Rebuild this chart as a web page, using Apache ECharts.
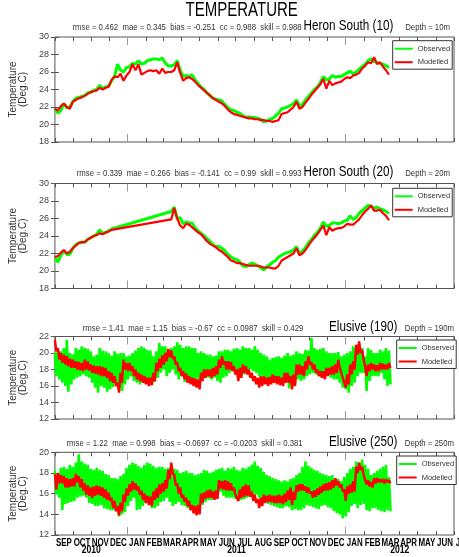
<!DOCTYPE html>
<html><head><meta charset="utf-8">
<script src="https://cdn.jsdelivr.net/npm/echarts@6/dist/echarts.min.js"></script>
<style>html,body{margin:0;padding:0;background:#fff}#c{width:459px;height:557px}</style>
</head><body><div id="c"></div>
<script>
// ---------- DATA ----------
const stepDays = 5; // sampling interval of the series, days from 1 Sep 2010
const monthNames = ['SEP','OCT','NOV','DEC','JAN','FEB','MAR','APR','MAY','JUN','JUL','AUG',
                    'SEP','OCT','NOV','DEC','JAN','FEB','MAR','APR','MAY','JUN','JUL'];
const yearLabels = ['2010','2011','2012'];
const chartTitle = 'TEMPERATURE';
const panelNames = ['Heron South (10)','Heron South (20)','Elusive (190)','Elusive (250)'];
const panelStats = [
  'rmse = 0.462  mae = 0.345  bias = -0.251  cc = 0.988  skill = 0.988',
  'rmse = 0.339  mae = 0.266  bias = -0.141  cc = 0.99  skill = 0.993',
  'rmse = 1.41  mae = 1.15  bias = -0.67  cc = 0.0987  skill = 0.429',
  'rmse = 1.22  mae = 0.998  bias = -0.0697  cc = -0.0203  skill = 0.381'
];
const panelDepths = ['Depth = 10m','Depth = 20m','Depth = 190m','Depth = 250m'];
const yRanges = [[18,30],[18,30],[12,22],[12,20]];

const h10Obs = [21.8,21.3,21.6,22.4,21.9,22.0,22.6,23.0,23.1,23.2,
23.3,23.6,23.7,23.9,24.0,24.5,24.1,24.3,24.4,25.0,
25.5,26.9,26.2,26.0,26.5,26.6,27.0,26.9,27.3,26.9,
27.0,27.3,27.4,27.5,27.5,27.4,27.6,27.0,26.7,26.7,
26.8,27.3,26.2,25.5,25.6,25.5,25.7,25.1,24.7,24.3,
24.0,23.6,23.3,23.0,22.9,22.8,22.7,22.3,21.9,21.7,
21.6,21.4,21.3,21.0,20.8,20.9,20.8,20.8,20.7,20.6,
20.3,20.4,20.6,20.7,21.0,21.3,21.8,21.9,22.0,22.2,
22.4,22.8,22.1,22.3,22.8,23.2,23.6,24.0,24.3,24.8,
25.5,25.1,25.2,25.6,25.4,25.5,25.5,25.7,25.9,26.1,
25.8,26.0,26.3,26.6,26.9,27.3,27.5,27.2,27.1,27.0,
26.9,26.7,26.5];
const h10Mod = [21.8,21.6,22.1,22.4,22.0,21.8,22.6,22.8,23.0,23.1,
23.3,23.5,23.7,23.8,23.9,24.2,24.0,24.2,24.3,25.1,
25.5,25.4,25.8,25.0,25.6,26.0,26.9,26.2,26.9,25.7,
25.9,26.1,26.2,26.1,26.2,25.8,26.4,25.9,26.0,26.0,
26.2,27.1,25.9,25.0,25.3,25.4,25.2,24.9,24.5,24.2,
23.9,23.6,23.3,23.0,22.8,22.6,22.4,22.1,21.7,21.4,
21.2,21.1,21.0,20.9,20.8,20.7,20.7,20.6,20.6,20.5,
20.5,20.4,20.4,20.3,20.4,20.5,21.2,21.3,21.4,21.7,
22.0,22.6,21.8,22.0,22.5,22.9,23.4,23.8,24.2,24.6,
25.2,24.1,25.0,24.5,24.7,24.8,24.9,25.2,25.4,25.3,
25.6,25.7,25.9,26.4,26.7,27.1,27.0,27.7,26.9,27.1,
26.6,26.2,25.7];
const h20Obs = [21.6,21.0,21.8,22.3,21.9,21.9,22.6,23.0,23.2,23.3,
23.3,23.6,23.8,24.0,24.2,24.7,24.3,24.4,24.6,24.8,
null,null,null,null,null,null,null,null,null,null,
null,null,null,null,null,null,null,null,null,26.8,
27.3,26.0,26.1,25.4,25.6,25.5,25.5,24.9,24.6,24.3,
24.0,23.7,23.4,23.0,22.8,22.8,22.6,22.3,21.9,21.6,
21.4,21.3,21.0,20.6,20.5,20.7,20.9,20.8,20.6,20.4,
20.1,20.5,20.7,21.0,21.2,21.6,21.8,22.0,22.1,22.2,
22.4,22.8,21.9,22.3,22.7,23.2,23.6,24.1,24.4,24.9,
25.6,25.1,25.2,25.5,25.5,25.4,25.5,25.7,25.8,26.3,
25.9,26.1,26.6,26.9,27.2,27.5,27.4,27.2,27.3,27.1,
27.0,26.8,26.6];
const h20Mod = [21.6,21.7,22.1,22.4,22.0,22.2,22.6,22.9,23.2,23.3,
23.3,23.6,23.8,24.0,24.1,24.3,24.2,24.4,24.5,24.7,
null,null,null,null,null,null,null,null,null,null,
null,null,null,null,null,null,null,null,null,25.9,
27.2,26.0,25.2,24.9,25.4,25.3,25.0,24.7,24.4,24.2,
23.8,23.4,23.1,22.9,22.7,22.4,22.2,21.9,21.6,21.2,
21.1,20.9,20.9,20.8,20.7,20.6,20.6,20.6,20.6,20.5,
20.4,20.4,20.4,20.3,20.3,20.6,21.2,21.4,21.6,21.8,
22.0,22.6,21.8,22.0,22.4,22.9,23.4,23.8,24.2,24.7,
25.2,24.1,25.0,24.6,24.8,24.9,24.9,25.1,25.4,25.3,
25.3,25.6,25.9,26.4,26.8,27.1,27.5,26.9,26.9,27.0,
26.6,26.3,25.8];
// Elusive 190: observed / modelled upper and lower envelope of the fast fluctuations
const e190ObsHi = [20.0,20.4,20.2,20.6,21.6,20.0,19.8,20.6,20.4,20.8,
20.6,20.5,20.2,19.6,19.8,20.6,20.3,20.2,20.0,19.7,
20.2,19.9,20.0,20.0,19.6,19.7,20.0,20.3,20.6,20.8,
20.6,20.4,20.3,19.6,20.2,21.2,20.8,20.8,20.4,20.6,
20.8,21.3,21.0,20.6,20.8,20.8,20.6,20.6,20.0,20.2,
20.0,19.8,19.8,19.6,19.7,20.2,20.2,20.4,20.4,20.2,
20.5,20.6,20.4,20.8,20.6,20.6,20.4,20.8,20.4,20.0,
19.8,19.6,19.2,19.4,19.5,19.6,19.4,19.7,20.0,19.7,
19.8,20.2,20.0,19.9,20.4,20.3,21.8,20.6,20.4,20.5,
20.6,20.2,20.0,20.0,20.0,20.1,19.6,19.8,20.0,20.2,
20.8,20.8,20.8,20.6,19.6,20.6,20.4,20.0,20.0,20.4,
20.2,20.6,20.3];
const e190ObsLo = [17.2,16.8,16.4,16.0,15.3,16.2,16.8,17.0,17.2,17.4,
17.2,17.0,16.4,15.8,15.2,16.0,15.8,15.3,15.6,15.9,
16.4,15.8,15.4,16.2,16.8,17.2,16.6,16.4,16.2,16.5,
16.3,16.5,16.2,16.5,17.0,17.6,18.0,17.2,17.6,18.0,
17.4,16.8,17.2,16.5,16.8,16.4,16.6,16.8,16.8,17.0,
17.4,17.0,16.8,17.0,16.6,16.4,17.0,17.2,17.6,18.0,
17.6,17.8,17.6,17.4,17.6,18.0,17.8,17.6,17.2,17.2,
16.8,16.6,16.4,16.6,16.8,16.8,16.4,16.6,15.7,16.0,
16.2,16.8,16.6,16.8,17.2,17.4,17.6,17.4,17.2,17.0,
17.0,17.4,17.0,16.8,16.8,16.4,15.8,15.6,15.2,16.0,
16.4,17.2,17.6,17.6,15.4,16.6,17.2,17.2,17.2,17.6,
16.8,16.0,16.2];
const e190ModHi = [21.6,20.6,20.0,19.8,19.6,19.3,19.2,19.0,18.9,18.8,
19.2,19.0,18.6,18.5,18.4,18.4,18.3,18.2,17.8,17.6,
17.2,16.4,17.6,19.2,18.8,18.8,18.4,18.0,17.6,17.4,
17.2,17.0,17.0,17.6,18.8,19.3,19.7,20.0,20.5,20.3,
19.6,18.9,18.2,17.8,17.5,17.2,17.0,16.9,16.8,17.6,
18.0,18.0,18.0,18.2,18.4,19.2,19.6,19.0,19.0,18.9,
18.4,18.0,18.2,18.6,18.4,18.0,17.6,17.2,17.0,17.2,
17.2,17.0,17.1,17.4,17.2,17.2,17.0,17.6,17.6,17.2,
17.4,18.6,18.6,18.4,19.0,19.6,18.9,18.6,18.0,17.8,
17.8,18.2,18.2,18.4,18.6,19.2,18.4,17.2,17.4,18.6,
19.0,21.0,21.4,20.4,18.4,18.6,18.8,18.6,18.5,18.8,
18.7,18.6,18.8];
const e190ModLo = [20.2,19.2,18.8,18.6,18.4,18.2,18.2,18.0,17.9,17.8,
18.0,17.9,17.6,17.5,17.4,17.2,17.2,17.0,16.6,16.4,
16.0,15.2,16.4,18.0,17.8,17.8,17.2,16.8,16.6,16.4,
16.2,16.0,16.1,16.6,17.8,18.2,18.6,19.0,19.5,19.3,
18.6,17.8,17.2,16.8,16.4,16.2,16.0,15.8,15.6,16.6,
17.0,17.2,17.0,17.2,17.4,18.2,18.6,18.0,18.0,17.8,
17.4,16.6,17.0,17.6,17.4,17.0,16.6,16.2,15.8,16.0,
16.2,16.0,16.2,16.4,16.2,16.1,16.0,16.4,16.4,15.6,
16.0,17.4,17.4,17.2,18.0,18.6,18.0,17.6,17.2,17.0,
16.8,17.2,17.4,17.4,17.6,18.2,17.0,15.8,16.2,17.4,
18.0,19.8,20.0,19.2,17.2,17.8,18.0,17.8,17.8,18.0,
18.0,18.0,18.2];
// Elusive 250
const e250ObsHi = [18.2,18.0,18.5,18.6,18.4,18.8,18.6,19.0,19.8,19.1,
18.9,18.8,18.4,18.3,18.5,18.3,18.2,17.9,17.8,17.5,
17.5,17.4,17.7,17.9,18.5,18.8,19.0,18.9,18.7,18.5,
18.8,19.0,18.9,18.7,18.5,18.6,18.6,18.4,18.5,18.6,
18.4,18.3,18.0,18.1,18.2,18.0,18.0,17.8,17.9,18.0,
18.3,18.2,18.0,18.1,18.3,18.4,18.5,18.2,18.5,18.4,
18.6,18.3,18.2,18.5,18.4,18.6,18.8,19.1,18.7,18.5,
18.1,17.8,17.7,17.5,17.4,17.3,17.2,17.3,17.2,17.4,
17.5,17.8,18.0,18.6,19.1,18.7,18.5,18.3,18.2,18.0,
17.9,17.8,17.7,17.8,17.5,17.4,17.2,17.6,18.0,18.4,
18.6,19.1,19.0,19.3,18.8,18.4,17.8,18.0,18.2,18.4,
18.6,18.8,17.6];
const e250ObsLo = [15.9,15.6,14.4,15.0,15.1,15.2,15.3,15.6,15.7,15.8,
15.6,15.1,15.0,14.8,14.8,14.9,14.6,14.5,14.4,14.4,
14.3,13.8,14.0,14.2,14.8,15.3,15.6,14.4,14.5,14.8,
15.1,15.3,14.6,14.6,14.8,15.2,15.3,15.6,15.2,14.8,
15.0,15.2,14.9,14.8,14.6,14.8,14.7,14.6,14.7,14.9,
15.2,15.4,15.4,15.5,15.6,16.2,15.8,15.6,15.6,15.6,
15.5,15.3,15.4,15.5,15.6,15.7,15.8,15.9,15.6,15.4,
15.2,15.0,14.9,14.8,14.7,14.6,14.6,14.8,14.7,14.4,
14.5,14.4,14.4,14.6,14.9,14.8,14.7,14.6,14.5,14.8,
14.9,14.7,14.6,14.3,14.1,14.0,13.6,13.8,14.2,14.8,
15.0,14.6,14.9,15.0,14.4,14.3,14.6,14.6,14.4,14.3,
14.2,14.4,14.3];
const e250ModHi = [17.9,18.0,17.8,17.7,17.5,17.4,17.5,17.9,17.7,17.4,
17.0,16.8,16.6,16.7,16.8,16.7,16.6,16.4,16.1,15.6,
15.3,14.8,15.1,15.9,16.5,16.9,17.2,17.0,16.7,16.3,
16.0,15.8,15.7,16.2,16.5,16.9,17.0,17.3,18.3,19.0,
17.8,17.0,16.6,15.9,15.6,15.3,14.9,14.8,14.9,16.0,
16.1,16.3,16.4,16.2,16.3,17.3,17.2,17.3,17.2,17.0,
16.6,15.9,16.4,16.7,16.9,16.8,16.2,15.9,15.5,15.6,
15.9,15.8,15.9,15.8,15.8,15.9,15.8,16.0,16.3,16.6,
16.2,16.8,16.9,16.9,16.7,16.6,16.2,16.3,16.5,16.7,
16.9,17.0,17.1,17.3,17.5,17.2,16.9,16.4,16.7,16.9,
17.2,18.6,19.0,18.6,17.7,17.3,17.1,17.5,17.5,17.4,
17.4,17.4,17.3];
const e250ModLo = [16.4,17.0,17.0,16.6,16.6,16.7,16.7,17.1,16.6,16.3,
15.9,15.8,15.6,15.8,15.9,15.8,15.6,15.4,15.3,14.6,
14.3,13.9,14.3,15.2,15.8,16.2,16.4,16.3,15.9,15.4,
15.1,14.9,14.8,15.4,15.6,16.0,16.2,16.5,17.4,18.0,
16.8,16.0,15.6,15.2,14.8,14.4,14.1,13.9,14.0,15.1,
15.5,15.6,15.6,15.4,15.5,16.5,16.4,16.3,16.3,16.3,
15.9,15.3,15.6,15.7,15.8,15.7,15.3,15.1,14.6,14.8,
15.1,15.2,15.2,15.1,15.1,15.1,15.0,15.2,15.4,14.9,
15.4,16.2,16.3,16.3,16.1,16.0,15.6,15.7,15.9,16.1,
16.3,16.3,16.4,16.6,16.8,16.6,16.2,15.3,16.0,16.1,
16.2,18.0,18.3,17.8,16.9,16.7,16.6,17.0,17.1,17.1,
17.0,17.1,17.0];

// ---------- BUILD ----------
const SANS = "'Liberation Sans',Arial,sans-serif";
const t0 = Date.UTC(2010, 8, 1);
const dayOf = (y, m, d) => (Date.UTC(y, m, d) - t0) / 864e5;
const monthBounds = [];
for (let k = 0; k <= monthNames.length; k++) monthBounds.push(dayOf(2010, 8 + k, 1));
const xMax = dayOf(2012, 6, 1);           // axis ends on 1 Jul 2012
const tickBounds = monthBounds.filter(d => d <= xMax);
const monthMids = monthNames.map((n, k) => (monthBounds[k] + monthBounds[k + 1]) / 2);
const janBounds = tickBounds.filter(d => new Date(t0 + d * 864e5).getUTCMonth() === 0);
const yearEdges = [0, ...janBounds, xMax];
const yearMids = yearLabels.map((y, i) => (yearEdges[i] + yearEdges[i + 1]) / 2);

const line = arr => arr.map((v, i) => [i * stepDays, v]);
const band = (hi, lo) => hi.flatMap((h, i) => [[i * stepDays, h], [i * stepDays + stepDays / 2, lo[i]]]);

const grids = [
  {top: 37, height: 105},
  {top: 183.5, height: 105},
  {top: 336.5, height: 82.5},
  {top: 452.3, height: 82.7}
];
const GL = 48.5, GW = 405.5;
const legendPos = [[392.7, 40.7], [392.7, 188.3], [396.7, 340], [396.7, 456]];
const textY = [27.3, 173.3, 328.3, 443.3];
const statsRight = [301.7, 301.7, 303.3, 302.7];
const nameRight = [393.3, 393.3, 397.3, 397.3];
const depthRight = [450, 450, 454, 454];

const panelSeries = [
  {obs: line(h10Obs), mod: line(h10Mod), wo: 3, wm: 2.2},
  {obs: line(h20Obs), mod: line(h20Mod), wo: 3, wm: 2.2},
  {obs: band(e190ObsHi, e190ObsLo), mod: band(e190ModHi, e190ModLo), wo: 2.6, wm: 2.4},
  {obs: band(e250ObsHi, e250ObsLo), mod: band(e250ModHi, e250ModLo), wo: 2.6, wm: 2.4}
];

const xAxis = [], yAxis = [], series = [], legend = [], graphic = [];
const tickCol = '#555';
const txt = (x, y, text, size, sx, align, col, vAlign, weight) => ({
  type: 'text', x: x, y: y, scaleX: sx, silent: true, z: 20,
  style: {text: text, fontSize: size, fontFamily: SANS, fontWeight: weight || 'normal', fill: col,
          align: align, textAlign: align, verticalAlign: vAlign || 'middle', textVerticalAlign: vAlign || 'middle'}
});
grids.forEach((g, gi) => {
  const base = xAxis.length;
  const mk = (pos, vals, len, col) => ({
    gridIndex: gi, type: 'value', min: 0, max: xMax, position: pos,
    axisLine: {show: false}, splitLine: {show: false},
    axisTick: {show: true, inside: true, length: len, customValues: vals, lineStyle: {color: col, width: 1}},
    axisLabel: {show: false}
  });
  xAxis.push(mk('bottom', tickBounds, 4, tickCol));
  xAxis.push(mk('top', tickBounds, 4, tickCol));
  xAxis.push(mk('bottom', janBounds, 8, '#999'));
  xAxis.push(mk('top', janBounds, 8, '#999'));
  const [ymin, ymax] = yRanges[gi];
  yAxis.push({
    gridIndex: gi, type: 'value', min: ymin, max: ymax, interval: 2, position: 'left',
    axisLine: {show: false}, splitLine: {show: false},
    axisTick: {show: true, inside: true, length: 4, lineStyle: {color: tickCol}},
    axisLabel: {margin: 6, color: '#444', fontFamily: SANS, fontSize: 9},
    name: 'Temperature\n(Deg.C)', nameLocation: 'middle', nameRotate: 90, nameGap: 22,
    nameTextStyle: {fontFamily: SANS, fontSize: 10, color: '#333', lineHeight: 10}
  });
  yAxis.push({
    gridIndex: gi, type: 'value', min: ymin, max: ymax, interval: 2, position: 'right',
    axisLine: {show: false}, splitLine: {show: false},
    axisTick: {show: true, inside: true, length: 4, lineStyle: {color: tickCol}},
    axisLabel: {show: false}
  });
  const ps = panelSeries[gi];
  series.push({
    type: 'line', name: 'Observed', xAxisIndex: base, yAxisIndex: 2 * gi, data: ps.obs,
    symbol: 'none', showSymbol: false, connectNulls: true, silent: true, animation: false,
    lineStyle: {color: '#00ff00', width: ps.wo, join: 'bevel'}, itemStyle: {color: '#00ff00'}, z: 3
  });
  series.push({
    type: 'line', name: 'Modelled', xAxisIndex: base, yAxisIndex: 2 * gi, data: ps.mod,
    symbol: 'none', showSymbol: false, connectNulls: true, silent: true, animation: false,
    lineStyle: {color: '#ff0000', width: ps.wm, join: 'bevel'}, itemStyle: {color: '#ff0000'}, z: 4
  });
  legend.push({
    data: [{name: 'Observed', icon: 'rect'}, {name: 'Modelled', icon: 'rect'}],
    orient: 'vertical', left: legendPos[gi][0], top: legendPos[gi][1],
    itemWidth: 18, itemHeight: 2, itemGap: 3.5, padding: [3, 2, 2, 2],
    borderColor: '#333', borderWidth: 1, backgroundColor: '#fff', selectedMode: false,
    textStyle: {fontFamily: SANS, fontSize: 7.5, color: '#333', lineHeight: 10}, z: 10
  });
  graphic.push(txt(statsRight[gi], textY[gi], panelStats[gi], 9.5, 0.82, 'right', '#333'));
  graphic.push(txt(nameRight[gi], textY[gi] - 1, panelNames[gi], 15, 0.78, 'right', '#000'));
  graphic.push(txt(depthRight[gi], textY[gi], panelDepths[gi], 9.5, 0.82, 'right', '#333'));
});
graphic.push(txt(241.7, 10.5, chartTitle, 20, 0.75, 'center', '#000'));

const chart = echarts.init(document.getElementById('c'), null, {renderer: 'canvas'});
chart.setOption({
  animation: false,
  backgroundColor: '#fff',
  grid: grids.map(g => ({left: GL, width: GW, top: g.top, height: g.height, show: true,
    borderColor: '#555', borderWidth: 1, containLabel: false})),
  xAxis: xAxis, yAxis: yAxis, series: series, legend: legend, graphic: graphic
});
// month and year labels of the bottom axis, placed through the bottom panel's x scale
const bottomAxis = 12;
const axisBottomY = grids[3].top + grids[3].height;
monthNames.forEach((n, k) => {
  const x = chart.convertToPixel({xAxisIndex: bottomAxis}, monthMids[k]);
  graphic.push(txt(x, axisBottomY + 1.5, n, 11.5, 0.69, 'center', '#000', 'top', 'bold'));
});
yearLabels.forEach((n, k) => {
  const x = chart.convertToPixel({xAxisIndex: bottomAxis}, yearMids[k]);
  graphic.push(txt(x, axisBottomY + 9.5, n, 10.5, 0.82, 'center', '#000', 'top', 'bold'));
});
chart.setOption({graphic: graphic});
</script></body></html>
